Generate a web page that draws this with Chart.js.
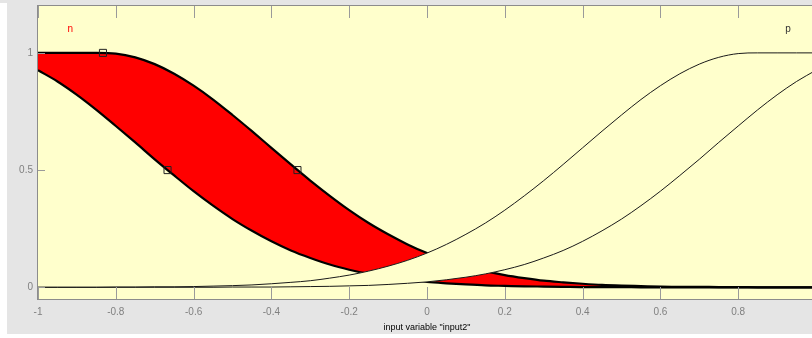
<!DOCTYPE html>
<html>
<head>
<meta charset="utf-8">
<script src="https://cdn.jsdelivr.net/npm/chart.js@4"></script>
<style>
html,body{margin:0;padding:0;overflow:hidden;background:#fff}
#wrap{width:830px;height:338px}
</style>
</head>
<body>
<div id="wrap"><canvas id="mfChart" width="830" height="338"></canvas></div>
<script>
// input range sampled every 0.05
const xs = [-1,-0.95,-0.9,-0.85,-0.8,-0.75,-0.7,-0.65,-0.6,-0.55,-0.5,-0.45,-0.4,-0.35,-0.3,-0.25,-0.2,-0.15,-0.1,-0.05,
0,0.05,0.1,0.15,0.2,0.25,0.3,0.35,0.4,0.45,0.5,0.55,0.6,0.65,0.7,0.75,0.8,0.85,0.9,0.95,1]

// MF "n" (upper / lower membership)
const nUpper = [1,1,1,1,0.997,0.981,0.952,0.911,0.860,0.801,0.735,0.666,0.595,0.524,0.455,0.390,0.329,0.274,0.226,0.183,
0.146,0.115,0.090,0.069,0.052,0.039,0.028,0.021,0.015,0.010,0.007,0.005,0.003,0.002,0.002,0.001,0.001,0,0,0,0]
const nLower = [0.926,0.878,0.821,0.757,0.688,0.618,0.546,0.477,0.410,0.348,0.291,0.241,0.196,0.157,0.125,0.097,0.075,0.057,0.043,0.032,
0.023,0.017,0.012,0.008,0.006,0.004,0.003,0.002,0.001,0.001,0.001,0,0,0,0,0,0,0,0,0,0]

// MF "p"
const pUpper = [0,0,0,0,0.001,0.001,0.002,0.002,0.003,0.005,0.007,0.010,0.015,0.021,0.028,0.039,0.052,0.069,0.090,0.115,
0.146,0.183,0.226,0.274,0.329,0.390,0.455,0.524,0.595,0.666,0.735,0.801,0.860,0.911,0.952,0.981,0.997,1,1,1,1]
const pLower = [0,0,0,0,0,0,0,0,0,0,0.001,0.001,0.001,0.002,0.003,0.004,0.006,0.008,0.012,0.017,
0.023,0.032,0.043,0.057,0.075,0.097,0.125,0.157,0.196,0.241,0.291,0.348,0.410,0.477,0.546,0.618,0.688,0.757,0.821,0.878,0.926]

// parameter handles of the selected MF
const markerX = [-0.833,-0.333,-0.667]
const markerY = [1,0.5,0.5]

const mfNames = ["n","p"]
const nameX = [-0.917,0.928]
const nameY = [1.1,1.1]
const nameColors = ["#ff0000","#333333"]

const xTicks = [-1,-0.8,-0.6,-0.4,-0.2,0,0.2,0.4,0.6,0.8,1]
const yTicks = [0,0.5,1]

const pts = arr => xs.map((x,i)=>({x:x, y:arr[i]}))

const panelBg = {
id:"panelBg",
beforeDraw(chart){
const {ctx, chartArea:a, width, height} = chart
ctx.save()
ctx.fillStyle="#ffffff"
ctx.fillRect(0,0,width,height)
ctx.fillStyle="#e5e5e5"
ctx.fillRect(7,0,width-7,334)
ctx.fillRect(0,0,7,3)
ctx.fillStyle="#ffffcc"
ctx.fillRect(a.left,a.top,a.right-a.left,a.bottom-a.top)
ctx.restore()
}
}

const axisDecor = {
id:"axisDecor",
afterDraw(chart){
const {ctx, chartArea:a, scales} = chart
ctx.save()
ctx.strokeStyle="#9a9a9a"
ctx.lineWidth=1
ctx.beginPath()
xTicks.forEach(v=>{
const px=Math.round(scales.x.getPixelForValue(v))+0.5
ctx.moveTo(px,a.bottom); ctx.lineTo(px,a.bottom-12)
ctx.moveTo(px,a.top); ctx.lineTo(px,a.top+12)
})
yTicks.forEach(v=>{
const py=Math.round(scales.y.getPixelForValue(v))+0.5
ctx.moveTo(a.left,py); ctx.lineTo(a.left+7,py)
})
ctx.stroke()
ctx.strokeStyle="#8c8c8c"
ctx.strokeRect(a.left-0.5,a.top-0.5,a.right-a.left+1,a.bottom-a.top+1)
ctx.font='10px "Liberation Sans"'
ctx.textAlign="center"
ctx.textBaseline="middle"
mfNames.forEach((name,i)=>{
ctx.fillStyle=nameColors[i]
ctx.fillText(name, scales.x.getPixelForValue(nameX[i]), scales.y.getPixelForValue(nameY[i]))
})
ctx.restore()
}
}

const tickFont = {size:10, family:'"Liberation Sans", Arial, sans-serif'}

new Chart(document.getElementById("mfChart"),{
type:"line",
data:{
datasets:[
{data:pts(nUpper), borderColor:"#000", borderWidth:2.2, backgroundColor:"#ff0000", fill:"+1", pointRadius:0, order:5},
{data:pts(nLower), borderColor:"#000", borderWidth:2.2, fill:false, pointRadius:0, order:4},
{data:pts(pUpper), borderColor:"#1a1a1a", borderWidth:1, backgroundColor:"#ffffcc", fill:"+1", pointRadius:0, order:3},
{data:pts(pLower), borderColor:"#1a1a1a", borderWidth:1, fill:false, pointRadius:0, order:2},
{data:markerX.map((x,i)=>({x:x, y:markerY[i]})), showLine:false, pointStyle:"rect", pointRadius:5,
 borderColor:"#222", borderWidth:1, backgroundColor:"rgba(0,0,0,0)", order:1}
]
},
options:{
responsive:false,
animation:false,
devicePixelRatio:1,
layout:{padding:{left:0, top:5, right:14, bottom:0}},
elements:{line:{cubicInterpolationMode:"monotone"}},
plugins:{legend:{display:false}, tooltip:{enabled:false}},
scales:{
x:{
type:"linear", min:-1, max:1,
grid:{display:false, drawTicks:false}, border:{display:false},
afterBuildTicks: s => { s.ticks = xTicks.map(v=>({value:v})) },
afterFit: s => { s.height = 39; s.paddingLeft = 0; s.paddingRight = 0 },
ticks:{color:"#808080", font:tickFont, padding:7, maxRotation:0, autoSkip:false, callback:v=>String(v)},
title:{display:true, text:'input variable "input2"', color:"#000", font:{size:9, family:'"Liberation Sans", Arial, sans-serif'}, padding:{top:0, bottom:5}}
},
y:{
type:"linear", min:-0.05, max:1.2,
grid:{display:false, drawTicks:false}, border:{display:false},
afterBuildTicks: s => { s.ticks = yTicks.map(v=>({value:v})) },
afterFit: s => { s.width = 38; s.paddingTop = 0; s.paddingBottom = 0 },
ticks:{color:"#808080", font:tickFont, padding:5, callback:v=>String(v)}
}
}
},
plugins:[panelBg, axisDecor]
})
</script>
</body>
</html>
